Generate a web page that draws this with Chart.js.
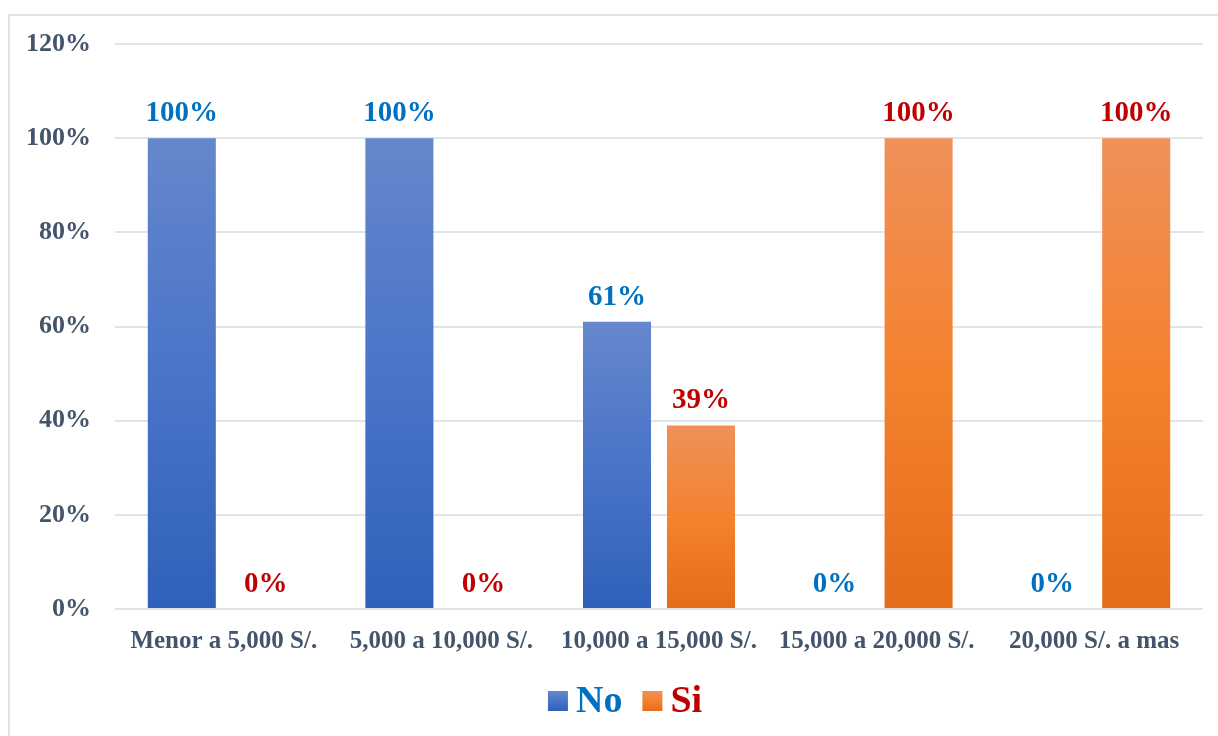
<!DOCTYPE html>
<html>
<head>
<meta charset="utf-8">
<script src="https://cdn.jsdelivr.net/npm/chart.js@4"></script>
<style>
  html, body { margin: 0; padding: 0; background: #fff; }
  body { width: 1218px; height: 736px; overflow: hidden; position: relative; }
  #frame {
    position: absolute; left: 8px; top: 14px; width: 1300px; height: 800px;
    border-left: 2px solid #DDE3EA; border-top: 2px solid #DDE3EA;
  }
  #wrap { position: absolute; left: 0; top: 0; width: 1218px; height: 736px; }
</style>
</head>
<body>
<div id="frame"></div>
<div id="wrap"><canvas id="chart"></canvas></div>
<script>
// ==============================
// DATA
// ==============================
const categories = [
  "Menor a 5,000 S/.",
  "5,000 a 10,000 S/.",
  "10,000 a 15,000 S/.",
  "15,000 a 20,000 S/.",
  "20,000 S/. a mas"
];
const seriesNames = ["No", "Si"];
const noValues = [100, 100, 61, 0, 0];
const siValues = [0, 0, 39, 100, 100];
const yTicks = [0, 20, 40, 60, 80, 100, 120];

// ==============================
// STYLE
// ==============================
const SERIF = "'Liberation Serif', 'Times New Roman', serif";
const AXIS_COLOR = "#44546A";
const LABEL_COLORS = ["#0070C0", "#C00000"];
const GRADS = [
  ["#6587CC", "#4A74C8", "#2F61BA"],
  ["#F0905A", "#F4822E", "#E46C1B"]
];

function vGradient(c, top, bottom, stops) {
  const g = c.createLinearGradient(0, top, 0, bottom);
  g.addColorStop(0, stops[0]);
  g.addColorStop(0.5, stops[1]);
  g.addColorStop(1, stops[2]);
  return g;
}

function barGradient(ctx, stops) {
  const chart = ctx.chart;
  const y = chart.scales && chart.scales.y;
  if (!chart.chartArea || !y) return stops[1];
  const top = y.getPixelForValue(ctx.raw);
  const bottom = y.getPixelForValue(0);
  if (Math.abs(bottom - top) < 1) return stops[2];
  return vGradient(chart.ctx, top, bottom, stops);
}

// ==============================
// VALUE LABELS
// ==============================
const valueLabels = {
  id: "valueLabels",
  afterDatasetsDraw(chart) {
    const c = chart.ctx;
    c.save();
    c.font = "bold 29px " + SERIF;
    c.textAlign = "center";
    c.textBaseline = "alphabetic";
    chart.data.datasets.forEach((ds, i) => {
      const meta = chart.getDatasetMeta(i);
      c.fillStyle = LABEL_COLORS[i];
      meta.data.forEach((bar, j) => {
        c.fillText(ds.data[j] + "%", bar.x, bar.y - 17);
      });
    });
    c.restore();
  }
};

// ==============================
// LEGEND (drawn by hand for tight box/text spacing)
// ==============================
const bottomLegend = {
  id: "bottomLegend",
  afterDraw(chart) {
    const c = chart.ctx;
    const box = 20, gapText = 8, gapItem = 20;
    const baseline = 712;
    c.save();
    c.font = "bold 38px " + SERIF;
    c.textBaseline = "alphabetic";
    const widths = chart.data.datasets.map(ds => c.measureText(ds.label).width);
    let total = widths.reduce((s, w) => s + box + gapText + w, 0) + gapItem * (widths.length - 1);
    let x = 625 - total / 2;
    chart.data.datasets.forEach((ds, i) => {
      const top = baseline - 21;
      c.fillStyle = vGradient(c, top, top + box, GRADS[i]);
      c.fillRect(x, top, box, box);
      x += box + gapText;
      c.fillStyle = LABEL_COLORS[i];
      c.fillText(ds.label, x, baseline);
      x += widths[i] + gapItem;
    });
    c.restore();
  }
};

// ==============================
// CHART
// ==============================
const ctx = document.getElementById("chart").getContext("2d");

new Chart(ctx, {
  type: "bar",
  data: {
    labels: categories,
    datasets: [
      {
        label: seriesNames[0],
        data: noValues,
        backgroundColor: c => barGradient(c, GRADS[0]),
        categoryPercentage: 0.772,
        barPercentage: 0.81
      },
      {
        label: seriesNames[1],
        data: siValues,
        backgroundColor: c => barGradient(c, GRADS[1]),
        categoryPercentage: 0.772,
        barPercentage: 0.81
      }
    ]
  },
  options: {
    responsive: true,
    maintainAspectRatio: false,
    animation: false,
    layout: { padding: { top: 44, right: 15, left: 0, bottom: 69 } },
    plugins: {
      tooltip: { enabled: false },
      legend: { display: false }
    },
    scales: {
      x: {
        grid: { display: false },
        border: { display: false },
        ticks: {
          color: AXIS_COLOR,
          font: { family: SERIF, size: 25, weight: "bold" },
          padding: 10,
          maxRotation: 0,
          autoSkip: false
        }
      },
      y: {
        min: 0,
        max: 120,
        afterFit: s => { s.width = 115; },
        afterBuildTicks: s => { s.ticks = yTicks.map(v => ({ value: v })); },
        grid: { color: "#E1E5EA", lineWidth: 2, drawTicks: false },
        border: { display: false },
        ticks: {
          color: AXIS_COLOR,
          padding: 24,
          font: { family: SERIF, size: 26, weight: "bold" },
          callback: v => v + "%"
        }
      }
    }
  },
  plugins: [valueLabels, bottomLegend]
});
</script>
</body>
</html>
